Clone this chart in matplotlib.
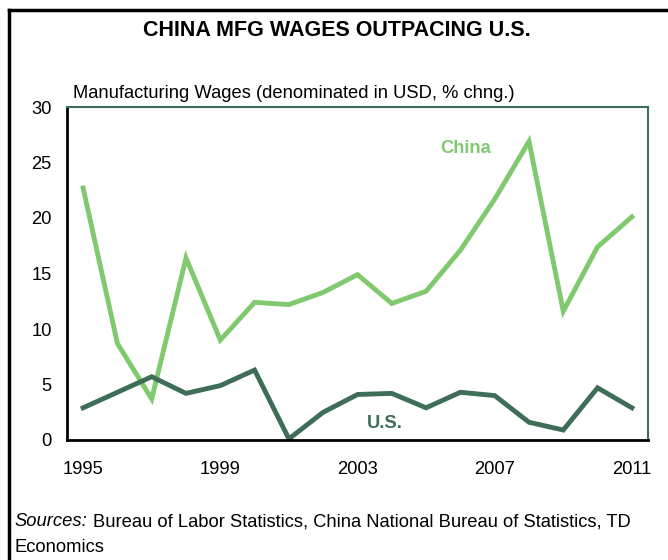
import matplotlib
matplotlib.use('Agg')
import matplotlib.pyplot as plt
from matplotlib.lines import Line2D

plt.rcParams['font.family'] = ['Liberation Sans', 'DejaVu Sans']

# yearly % change in manufacturing wages (USD)
years = list(range(1995, 2012))
china = [22.7, 8.7, 3.7, 16.4, 9.0, 12.4, 12.2, 13.3, 14.9, 12.3, 13.4, 17.1, 21.7, 26.9, 11.6, 17.4, 20.1]
us = [2.9, 4.3, 5.7, 4.2, 4.9, 6.3, 0.1, 2.5, 4.1, 4.2, 2.9, 4.3, 4.0, 1.6, 0.9, 4.7, 2.9]
xticks = [1995, 1999, 2003, 2007, 2011]
yticks = [0, 5, 10, 15, 20, 25, 30]

light_green = '#80c96f'
dark_green = '#3e6e57'
fs = 13.2

fig = plt.figure(figsize=(6.68, 5.6), dpi=100)
ax = fig.add_axes([67/668, 1 - 440/560, (648-67)/668, (440-107)/560])

ax.plot(years, china, color=light_green, lw=3.5, solid_joinstyle='miter')
ax.plot(years, us, color=dark_green, lw=3.5, solid_joinstyle='miter')

ax.set_xlim(1994.53, 2011.47)
ax.set_ylim(0, 30)
ax.set_xticks(xticks)
ax.set_yticks(yticks)
ax.tick_params(length=0, labelsize=fs, pad=15)
ax.tick_params(axis='y', pad=11)

for side in ['left', 'bottom']:
    ax.spines[side].set_color('black')
    ax.spines[side].set_linewidth(2)
for side in ['top', 'right']:
    ax.spines[side].set_color(dark_green)
    ax.spines[side].set_linewidth(1.5)

ax.text(2006.9, 26.3, 'China', color=light_green, fontsize=fs, fontweight='bold',
        ha='right', va='center')
ax.text(2003.8, 1.45, 'U.S.', color=dark_green, fontsize=fs, fontweight='bold',
        ha='center', va='center')

fig.text(73/668, 1 - 93/560, 'Manufacturing Wages (denominated in USD, % chng.)',
         fontsize=fs, va='center')
fig.text(337/668, 1 - 30/560, 'CHINA MFG WAGES OUTPACING U.S.',
         fontsize=15.5, fontweight='bold', ha='center', va='center')

fig.text(14/668, 1 - 522/560, 'Sources:', fontsize=fs, style='italic', va='center')
fig.text(93/668, 1 - 522/560, 'Bureau of Labor Statistics, China National Bureau of Statistics, TD',
         fontsize=fs, va='center')
fig.text(14/668, 1 - 548/560, 'Economics', fontsize=fs, va='center')

# outer frame, open on the right and bottom
fig.add_artist(Line2D([9/668, 9/668], [0, 1 - 10/560], color='black', lw=2.5,
                      transform=fig.transFigure))
fig.add_artist(Line2D([9/668, 1], [1 - 10/560, 1 - 10/560], color='black', lw=2.5,
                      transform=fig.transFigure))

fig.savefig('out.png', dpi=100)
